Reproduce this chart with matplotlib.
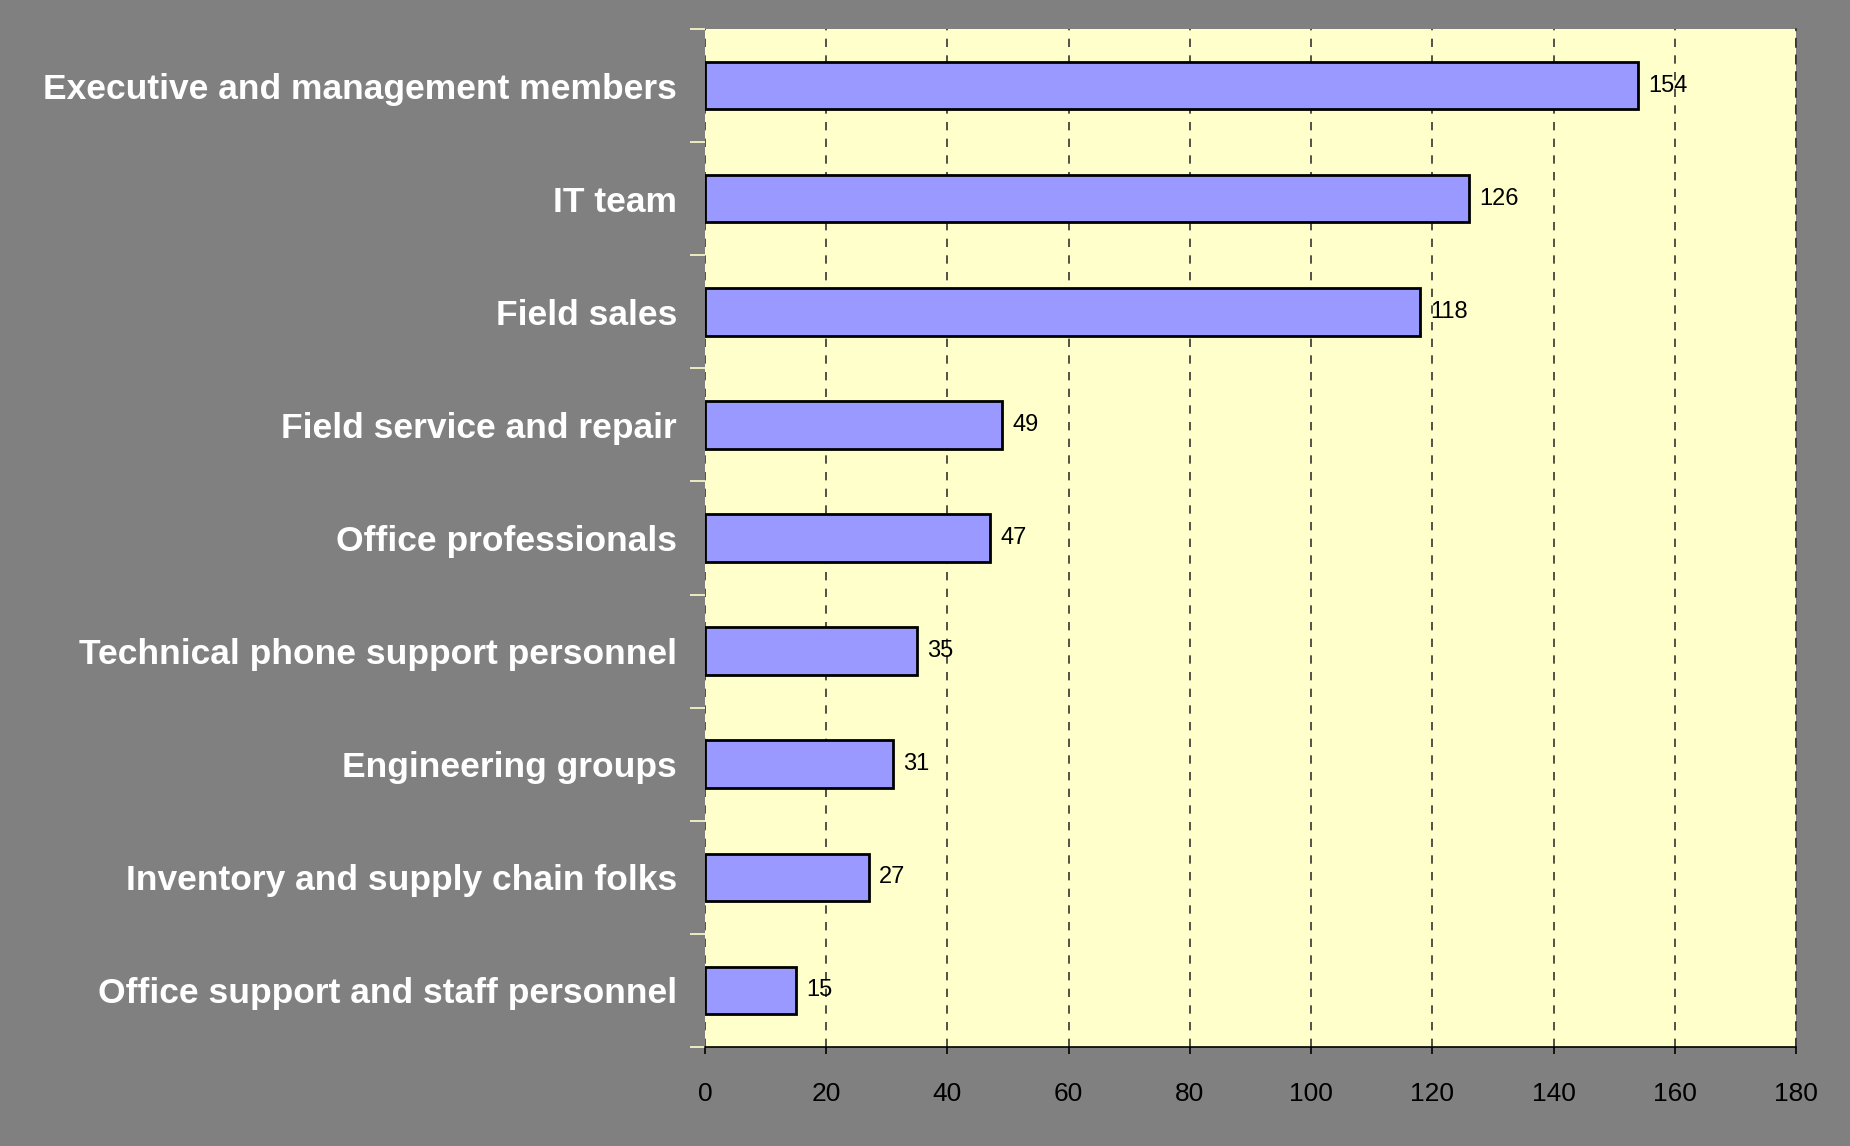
import matplotlib
matplotlib.use('Agg')
import matplotlib.pyplot as plt
import numpy as np

# categories listed top to bottom
groups = ['Executive and management members', 'IT team', 'Field sales',
          'Field service and repair', 'Office professionals',
          'Technical phone support personnel', 'Engineering groups',
          'Inventory and supply chain folks', 'Office support and staff personnel']
counts = [154, 126, 118, 49, 47, 35, 31, 27, 15]
xticks = [0, 20, 40, 60, 80, 100, 120, 140, 160, 180]

fam = ['Liberation Sans', 'DejaVu Sans']

fig = plt.figure(figsize=(18.5, 11.46), dpi=100, facecolor='#808080')
ax = fig.add_axes([0.381, 0.0864, 0.5898, 0.8883])
ax.set_facecolor('#FFFFCC')

pos = np.arange(len(groups))
ax.barh(pos, counts, height=0.42, color='#9999FF', edgecolor='black', linewidth=2, zorder=3)
for p, v in zip(pos, counts):
    ax.text(v + 1.7, p, str(v), va='center', ha='left', fontsize=17,
            family=fam, color='black', zorder=4)

ax.set_xlim(0, 180)
ax.set_ylim(len(groups) - 0.5, -0.5)
ax.set_xticks(xticks)
ax.set_xticklabels([str(t) for t in xticks], fontsize=19, family=fam)
ax.xaxis.grid(True, linestyle=(0, (5, 5)), color='#333333', linewidth=1.2, zorder=1)
ax.tick_params(axis='x', length=5, width=1.2, color='black', pad=20)

# category labels sit between the boundary ticks
ax.set_yticks(pos)
ax.set_yticklabels(groups, fontsize=25.5, fontweight='bold', color='white', family=fam)
ax.tick_params(axis='y', length=0, pad=20)
ax.set_yticks(np.arange(len(groups) + 1) - 0.5, minor=True)
ax.tick_params(axis='y', which='minor', length=11, width=1.2, color='#FFFFCC')

for s in ['top', 'left']:
    ax.spines[s].set_visible(False)
ax.spines['right'].set_linestyle((0, (5, 5)))
ax.spines['right'].set_color('#333333')
ax.spines['right'].set_linewidth(1.2)
ax.spines['bottom'].set_color('black')
ax.spines['bottom'].set_linewidth(1.2)

fig.savefig('out.png', dpi=100, facecolor=fig.get_facecolor())
